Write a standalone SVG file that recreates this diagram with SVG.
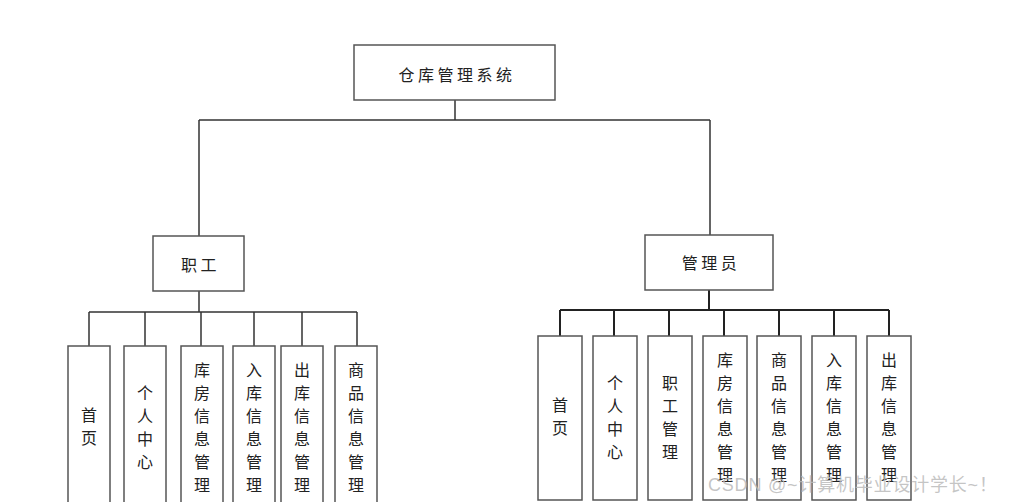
<svg xmlns="http://www.w3.org/2000/svg" width="1009" height="502" viewBox="0 0 1009 502">
<style>
.box{fill:#fff;stroke:#555;stroke-width:1.5}
.ln{fill:none;stroke:#333;stroke-width:1.5}
.ln2{fill:none;stroke:#222;stroke-width:2}
.t{font-family:"Noto Sans CJK SC","Noto Sans",sans-serif;font-size:16px;fill:#222;text-anchor:middle}
.h{letter-spacing:3.5px}
.wm{font-family:"Liberation Sans","Noto Sans CJK SC",sans-serif;font-size:18px;letter-spacing:0.8px;fill:#bbb;fill-opacity:0.85}
</style>
<rect width="1009" height="502" fill="#fff"/>
<g id="connectors">
<path class="ln" d="M455 100V120M199 120H710M199 120V236M710 120V235"/>
<path class="ln" d="M199 291V312M89 312H357M89 312V346M145 312V346M201 312V346M254 312V346M302 312V346M357 312V346"/>
<path class="ln2" d="M709 290V310M560 310H889M560 310V336M614 310V336M669 310V336M724 310V336M779 310V336M834 310V336M889 310V336"/>
</g>
<g id="root"><rect class="box" x="354" y="45" width="201" height="55"/><text class="t h" x="457" y="81">仓库管理系统</text></g>
<g id="staff"><rect class="box" x="153" y="236" width="91" height="55"/><text class="t h" x="200.5" y="271">职工</text></g>
<g id="admin"><rect class="box" x="645" y="235" width="128" height="55"/><text class="t h" x="711" y="269">管理员</text></g>
<g id="s1"><rect class="box" x="68" y="346" width="42" height="162"/><text class="t"><tspan x="89" y="420.5">首</tspan><tspan x="89" dy="23">页</tspan></text></g>
<g id="s2"><rect class="box" x="124" y="346" width="42" height="162"/><text class="t"><tspan x="145" y="398.5">个</tspan><tspan x="145" dy="23">人</tspan><tspan x="145" dy="23">中</tspan><tspan x="145" dy="23">心</tspan></text></g>
<g id="s3"><rect class="box" x="181" y="346" width="42" height="162"/><text class="t"><tspan x="202" y="375.5">库</tspan><tspan x="202" dy="23">房</tspan><tspan x="202" dy="23">信</tspan><tspan x="202" dy="23">息</tspan><tspan x="202" dy="23">管</tspan><tspan x="202" dy="23">理</tspan></text></g>
<g id="s4"><rect class="box" x="233" y="346" width="42" height="162"/><text class="t"><tspan x="254" y="375.5">入</tspan><tspan x="254" dy="23">库</tspan><tspan x="254" dy="23">信</tspan><tspan x="254" dy="23">息</tspan><tspan x="254" dy="23">管</tspan><tspan x="254" dy="23">理</tspan></text></g>
<g id="s5"><rect class="box" x="281" y="346" width="42" height="162"/><text class="t"><tspan x="302" y="375.5">出</tspan><tspan x="302" dy="23">库</tspan><tspan x="302" dy="23">信</tspan><tspan x="302" dy="23">息</tspan><tspan x="302" dy="23">管</tspan><tspan x="302" dy="23">理</tspan></text></g>
<g id="s6"><rect class="box" x="335" y="346" width="42" height="162"/><text class="t"><tspan x="356" y="375.5">商</tspan><tspan x="356" dy="23">品</tspan><tspan x="356" dy="23">信</tspan><tspan x="356" dy="23">息</tspan><tspan x="356" dy="23">管</tspan><tspan x="356" dy="23">理</tspan></text></g>
<g id="a1"><rect class="box" x="538" y="336" width="44" height="164"/><text class="t"><tspan x="560" y="410.5">首</tspan><tspan x="560" dy="23">页</tspan></text></g>
<g id="a2"><rect class="box" x="593" y="336" width="44" height="164"/><text class="t"><tspan x="615" y="388.5">个</tspan><tspan x="615" dy="23">人</tspan><tspan x="615" dy="23">中</tspan><tspan x="615" dy="23">心</tspan></text></g>
<g id="a3"><rect class="box" x="648" y="336" width="44" height="164"/><text class="t"><tspan x="670" y="388.5">职</tspan><tspan x="670" dy="23">工</tspan><tspan x="670" dy="23">管</tspan><tspan x="670" dy="23">理</tspan></text></g>
<g id="a4"><rect class="box" x="703" y="336" width="44" height="164"/><text class="t"><tspan x="725" y="365.5">库</tspan><tspan x="725" dy="23">房</tspan><tspan x="725" dy="23">信</tspan><tspan x="725" dy="23">息</tspan><tspan x="725" dy="23">管</tspan><tspan x="725" dy="23">理</tspan></text></g>
<g id="a5"><rect class="box" x="757" y="336" width="44" height="164"/><text class="t"><tspan x="779" y="365.5">商</tspan><tspan x="779" dy="23">品</tspan><tspan x="779" dy="23">信</tspan><tspan x="779" dy="23">息</tspan><tspan x="779" dy="23">管</tspan><tspan x="779" dy="23">理</tspan></text></g>
<g id="a6"><rect class="box" x="812" y="336" width="44" height="164"/><text class="t"><tspan x="834" y="365.5">入</tspan><tspan x="834" dy="23">库</tspan><tspan x="834" dy="23">信</tspan><tspan x="834" dy="23">息</tspan><tspan x="834" dy="23">管</tspan><tspan x="834" dy="23">理</tspan></text></g>
<g id="a7"><rect class="box" x="867" y="336" width="44" height="164"/><text class="t"><tspan x="889" y="365.5">出</tspan><tspan x="889" dy="23">库</tspan><tspan x="889" dy="23">信</tspan><tspan x="889" dy="23">息</tspan><tspan x="889" dy="23">管</tspan><tspan x="889" dy="23">理</tspan></text></g>
<text class="wm" x="708" y="491">CSDN @~计算机毕业设计学长~！</text>
</svg>
